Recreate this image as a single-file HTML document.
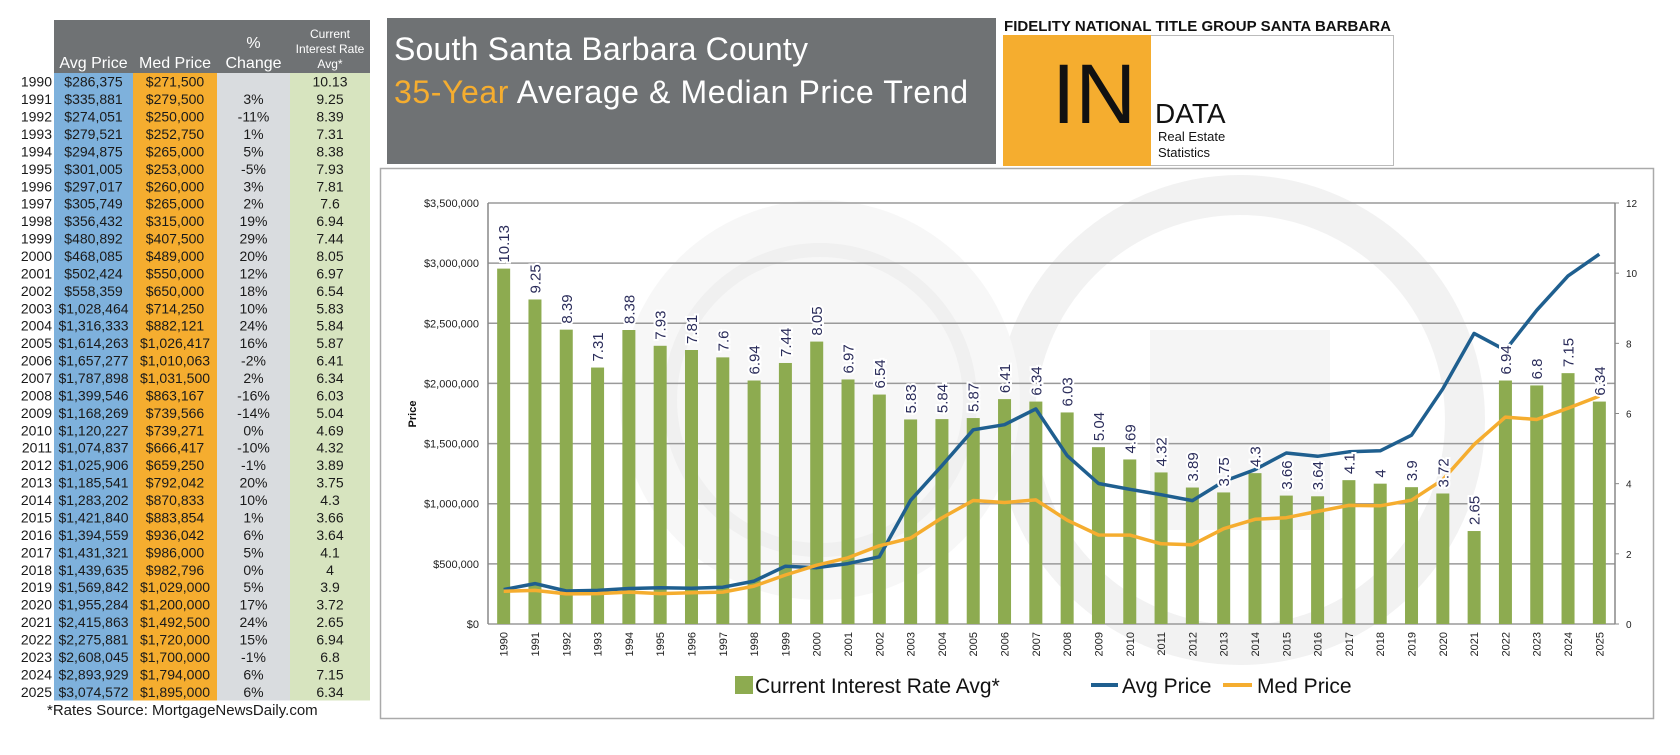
<!DOCTYPE html>
<html><head><meta charset="utf-8"><style>
html,body{margin:0;padding:0;background:#fff;}
svg{display:block;font-family:"Liberation Sans",sans-serif;}
</style></head><body>
<svg id="root" width="1680" height="755" viewBox="0 0 1680 755">
<g id="table"></g>
<g>
  <rect x="387" y="18" width="609" height="146" fill="#6f7274"/>
  <text x="394" y="60" font-size="32" fill="#fff" textLength="414">South Santa Barbara County</text>
  <text x="394" y="103" font-size="32" fill="#fff" textLength="574"><tspan fill="#f5ad2f">35-Year</tspan> Average &amp; Median Price Trend</text>
</g>
<g>
  <text x="1004" y="31" font-size="15" font-weight="bold" fill="#111" textLength="387">FIDELITY NATIONAL TITLE GROUP SANTA BARBARA</text>
  <rect x="1003.5" y="35.5" width="390" height="130" fill="#fff" stroke="#bbb"/>
  <rect x="1003" y="35" width="148" height="131" fill="#f5ad2f"/>
  <text x="1052" y="123" font-size="84" fill="#111">IN</text>
  <text x="1155" y="123" font-size="28" fill="#111">DATA</text>
  <text x="1158" y="141" font-size="13" fill="#111">Real Estate</text>
  <text x="1158" y="157" font-size="13" fill="#111">Statistics</text>
</g>
<rect x="380.5" y="168.5" width="1273" height="550" fill="#fff" stroke="#aaa" stroke-width="1.5"/>
<g opacity="0.5">
  <circle cx="1240" cy="420" r="225" fill="none" stroke="#e6e6e6" stroke-width="40"/>
  <rect x="1150" y="330" width="180" height="200" fill="#ececec"/>
  <circle cx="820" cy="400" r="200" fill="#f0f0f0"/>
  <circle cx="820" cy="400" r="150" fill="none" stroke="#e2e2e2" stroke-width="14"/>
</g>
<g id="chart"></g>
</svg>
<script>
const years = [1990,1991,1992,1993,1994,1995,1996,1997,1998,1999,2000,2001,2002,2003,2004,2005,2006,2007,2008,2009,2010,2011,2012,2013,2014,2015,2016,2017,2018,2019,2020,2021,2022,2023,2024,2025];
const avgPrice = [286375,335881,274051,279521,294875,301005,297017,305749,356432,480892,468085,502424,558359,1028464,1316333,1614263,1657277,1787898,1399546,1168269,1120227,1074837,1025906,1185541,1283202,1421840,1394559,1431321,1439635,1569842,1955284,2415863,2275881,2608045,2893929,3074572];
const medPrice = [271500,279500,250000,252750,265000,253000,260000,265000,315000,407500,489000,550000,650000,714250,882121,1026417,1010063,1031500,863167,739566,739271,666417,659250,792042,870833,883854,936042,986000,982796,1029000,1200000,1492500,1720000,1700000,1794000,1895000];
const pctChange = ['','3%','-11%','1%','5%','-5%','3%','2%','19%','29%','20%','12%','18%','10%','24%','16%','-2%','2%','-16%','-14%','0%','-10%','-1%','20%','10%','1%','6%','5%','0%','5%','17%','24%','15%','-1%','6%','6%'];
const rates = [10.13,9.25,8.39,7.31,8.38,7.93,7.81,7.6,6.94,7.44,8.05,6.97,6.54,5.83,5.84,5.87,6.41,6.34,6.03,5.04,4.69,4.32,3.89,3.75,4.3,3.66,3.64,4.1,4,3.9,3.72,2.65,6.94,6.8,7.15,6.34];
const priceTicks = [0,500000,1000000,1500000,2000000,2500000,3000000,3500000];
const rateTicks = [0,2,4,6,8,10,12];

const NS='http://www.w3.org/2000/svg';
function mk(parent,tag,attrs,text){const e=document.createElementNS(NS,tag);for(const k in attrs)e.setAttribute(k,attrs[k]);if(text!==undefined)e.textContent=text;parent.appendChild(e);return e;}
const money=v=>'$'+v.toLocaleString('en-US');

// ---- table ----
const T=document.getElementById('table');
const rowTop=73, rowH=17.43, nR=years.length, tBot=rowTop+rowH*nR;
const cols=[{x:54,w:79,c:'#7eb1dc'},{x:133,w:84,c:'#f5ad2f'},{x:217,w:73,c:'#d9dcdf'},{x:290,w:80,c:'#d7e4bf'}];
let hb=mk(T,'rect',{x:54,y:20,width:316,height:53,fill:'#6f7274'});


cols.forEach((c,i)=>{let r=mk(T,'rect',{x:c.x,y:rowTop,width:c.w,height:tBot-rowTop,fill:c.c});

});
const heads=[[93.5,[ 'Avg Price']],[175,['Med Price']],[253.5,['%','Change']],[330,['Current','Interest Rate','Avg*']]];
heads.forEach((h,i)=>{const lines=h[1];const fs=i==3?12:16;const lh=i==3?15:20;
 lines.forEach((l,j)=>{let t=mk(T,'text',{x:h[0],y:68-(lines.length-1-j)*lh,'font-size':fs,fill:'#fff','text-anchor':'middle'},l);
 
 });});
years.forEach((y,i)=>{const cy=rowTop+rowH*(i+0.5)+5;
 const vals=[[52,String(y),'end'],[93.5,money(avgPrice[i]),'middle'],[175,money(medPrice[i]),'middle'],[253.5,pctChange[i],'middle'],[330,String(rates[i]),'middle']];
 vals.forEach(v=>{let t=mk(T,'text',{x:v[0],y:cy,'font-size':14,fill:'#1a1a1a','text-anchor':v[2]},v[1]);
 
 });});
let fn=mk(T,'text',{x:47,y:715,'font-size':15,fill:'#1a1a1a'},'*Rates Source: MortgageNewsDaily.com');



// ---- chart ----
const C=document.getElementById('chart');
const L=488,R=1615,B=624,Tp=203;
const n=years.length, bw=(R-L)/n;
const xc=i=>L+bw*(i+0.5);
const yP=v=>B-(v/3500000)*(B-Tp);
const yR=v=>B-(v/12)*(B-Tp);
priceTicks.forEach(v=>{const y=yP(v);
 let g=mk(C,'line',{x1:L,x2:R,y1:y,y2:y,stroke:'#9a9a9a','stroke-width':1.5});
 
 
 let t=mk(C,'text',{x:L-9,y:y+4,'font-size':11,fill:'#222','text-anchor':'end'},money(v));
 
 });
rateTicks.forEach(v=>{const y=yR(v);
 mk(C,'line',{x1:R,x2:R+4,y1:y,y2:y,stroke:'#888'});
 let t=mk(C,'text',{x:R+11,y:y+4,'font-size':10,fill:'#222'},String(v));
 
 });
mk(C,'line',{x1:L,x2:L,y1:Tp,y2:B,stroke:'#888','stroke-width':1.5});
mk(C,'line',{x1:R,x2:R,y1:Tp,y2:B,stroke:'#888','stroke-width':1.5});
let yt=mk(C,'text',{x:0,y:0,'font-size':11,'font-weight':'bold',fill:'#111','text-anchor':'middle',transform:'translate(416,414) rotate(-90)'},'Price');


rates.forEach((r,i)=>{const y=yR(r);
 let b=mk(C,'rect',{x:xc(i)-6.5,y:y,width:13,height:B-y,fill:'#8dab50'});
 
 });
function line(vals,color,name){const d=vals.map((v,i)=>(i?'L':'M')+xc(i).toFixed(1)+' '+yP(v).toFixed(1)).join(' ');
 let p=mk(C,'path',{d:d,fill:'none',stroke:color,'stroke-width':3.5,'stroke-linejoin':'round'});
 
 }
line(avgPrice,'#1f5f8f','avg-price-line');
line(medPrice,'#f5ad2f','med-price-line');
rates.forEach((r,i)=>{const y=yR(r)-6;
 let t=mk(C,'text',{x:0,y:0,'font-size':15,fill:'#2b2d5b',stroke:'#fff','stroke-width':4,'paint-order':'stroke',transform:`translate(${xc(i)+5.5},${y}) rotate(-90)`},String(r));
 
 });
years.forEach((yr,i)=>{
 let t=mk(C,'text',{x:0,y:0,'font-size':11,fill:'#222','text-anchor':'end',transform:`translate(${xc(i)+4},${B+8}) rotate(-90)`},String(yr));
 
 });
// legend
let lg=mk(C,'g',{});


let s1=mk(lg,'rect',{x:735,y:676,width:18,height:18,fill:'#8dab50'});


let l1=mk(lg,'text',{x:755,y:693,'font-size':21,fill:'#111'},'Current Interest Rate Avg*');


let s2=mk(lg,'line',{x1:1091,x2:1118,y1:685,y2:685,stroke:'#1f5f8f','stroke-width':4});


let l2=mk(lg,'text',{x:1122,y:693,'font-size':21,fill:'#111'},'Avg Price');


let s3=mk(lg,'line',{x1:1223,x2:1252,y1:685,y2:685,stroke:'#f5ad2f','stroke-width':4});


let l3=mk(lg,'text',{x:1257,y:693,'font-size':21,fill:'#111'},'Med Price');


</script>
</body></html>
